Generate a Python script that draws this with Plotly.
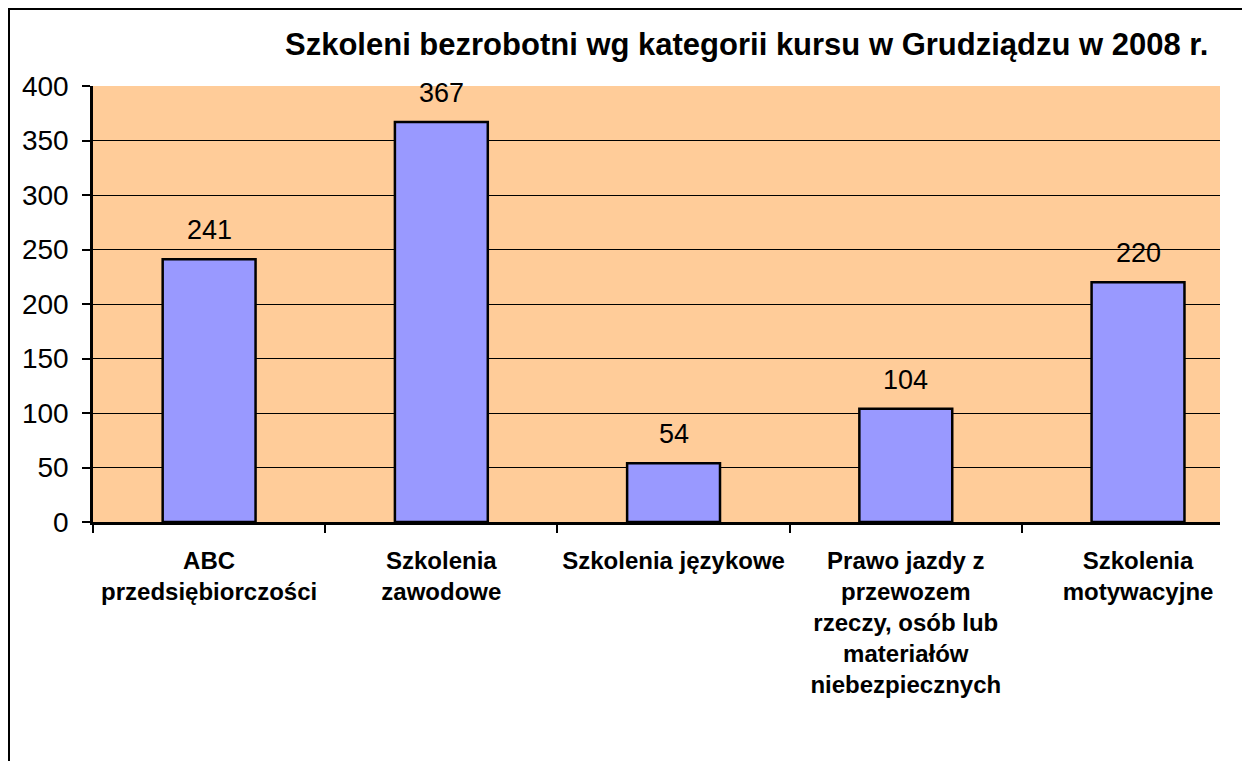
import plotly.graph_objects as go

categories = [
    "ABC<br>przedsiębiorczości",
    "Szkolenia<br>zawodowe",
    "Szkolenia językowe",
    "Prawo jazdy z<br>przewozem<br>rzeczy, osób lub<br>materiałów<br>niebezpiecznych",
    "Szkolenia<br>motywacyjne",
]
values = [241, 367, 54, 104, 220]
y_ticks = [0, 50, 100, 150, 200, 250, 300, 350, 400]
title_text = "Szkoleni bezrobotni wg kategorii kursu w Grudziądzu w 2008 r."

# page has an 8px body margin; figure placed at (8, 8)
OFF = 8
W, H = 1250, 761
PL, PT, PR, PB = 93, 86, 1220, 522  # target plot-area edges in page pixels
ML = PL - OFF
MT = PT - OFF
MR = W + OFF - PR
MB = H + OFF - PB
PW = PR - PL
PH = PB - PT

font_fam = "Liberation Sans, Arial, sans-serif"

fig = go.Figure()
fig.add_trace(go.Bar(
    x=categories, y=values,
    marker=dict(color="#9999FF", line=dict(color="black", width=2.5)),
    width=0.4,
    hoverinfo="x+y",
))

for c, v in zip(categories, values):
    fig.add_annotation(x=c, y=v, text=str(v), showarrow=False,
                       yanchor="bottom", yshift=12,
                       font=dict(family=font_fam, size=27, color="black"))

def px_x(p):
    return (p - PL) / PW

def px_y(p):
    return (PB - p) / PH

fig.add_annotation(x=px_x(746), y=px_y(44), xref="paper", yref="paper",
                   text="<b>" + title_text + "</b>", showarrow=False,
                   xanchor="center", yanchor="middle",
                   font=dict(family=font_fam, size=31, color="black"))

line = dict(color="black", width=3)
fig.add_shape(type="line", xref="paper", yref="paper",
              x0=px_x(8.5), x1=px_x(8.5), y0=px_y(7.5), y1=px_y(780), line=line)
fig.add_shape(type="line", xref="paper", yref="paper",
              x0=px_x(8.5), x1=px_x(1270), y0=px_y(8.5), y1=px_y(8.5), line=line)

fig.update_layout(
    width=W, height=H,
    margin=dict(l=ML, r=MR, t=MT, b=MB),
    paper_bgcolor="white",
    plot_bgcolor="#FFCC99",
    showlegend=False,
    font=dict(family=font_fam, color="black"),
)
fig.update_xaxes(
    range=[-0.5, 4.353],
    showline=True, linecolor="black", linewidth=2.5,
    ticks="outside", ticklen=8, tickwidth=2, tickcolor="black",
    tickson="boundaries", showgrid=False, tickangle=0,
    tickfont=dict(family=font_fam, size=24, color="black", weight="bold"),
    ticklabelstandoff=15,
)
fig.update_yaxes(
    range=[0, 400], tickvals=y_ticks, ticktext=[str(t) for t in y_ticks],
    showline=True, linecolor="black", linewidth=2.5,
    ticks="outside", ticklen=8, tickwidth=2, tickcolor="black",
    showgrid=True, gridcolor="black", gridwidth=1.2,
    zeroline=False,
    tickfont=dict(family=font_fam, size=28, color="black"),
    ticklabelstandoff=8,
)

fig.write_html("out.html")
